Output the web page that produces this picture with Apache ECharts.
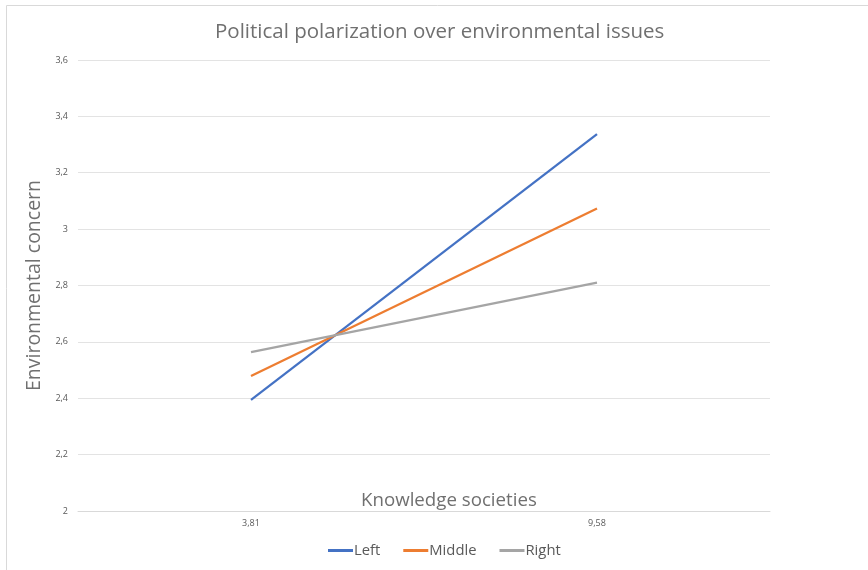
<!DOCTYPE html>
<html><head><meta charset="utf-8">
<script src="https://cdn.jsdelivr.net/npm/echarts@6/dist/echarts.min.js"></script>
<style>html,body{margin:0;padding:0;background:#fff}#c{width:868px;height:570px}</style>
</head><body><div id="c"></div>
<script>
const categories = ['3,81', '9,58'];
const leftValues = [2.394, 3.337];
const middleValues = [2.479, 3.073];
const rightValues = [2.564, 2.810];
const yTicks = [2, 2.2, 2.4, 2.6, 2.8, 3, 3.2, 3.4, 3.6];

const chart = echarts.init(document.getElementById('c'));
const font = 'Open Sans';
chart.setOption({
  animation: false,
  title: {
    text: 'Political polarization over environmental issues',
    left: 210, top: 17,
    textStyle: { fontFamily: font, fontSize: 20.5, fontWeight: 'normal', color: '#707070' }
  },
  graphic: [
    { type: 'rect', shape: { x: 6.5, y: 5.5, width: 900, height: 600 }, style: { fill: 'none', stroke: '#d9d9d9', lineWidth: 1 }, silent: true },
    { type: 'text', left: 361, top: 491, style: { text: 'Knowledge societies', font: '18.7px "Open Sans"', fill: '#707070' } }
  ],
  legend: {
    bottom: 7, left: 323, itemWidth: 25, itemHeight: 3, itemGap: 23,
    icon: 'rect',
    textStyle: { fontFamily: font, fontSize: 14.8, color: '#595959', padding: [0, 0, 0, -4] },
    data: ['Left', 'Middle', 'Right']
  },
  grid: { left: 78, right: 98, top: 60, bottom: 59 },
  xAxis: {
    type: 'category', data: categories, boundaryGap: true,
    axisLine: { lineStyle: { color: '#d9d9d9', width: 1 } },
    axisTick: { show: false },
    axisLabel: { fontFamily: font, fontSize: 9, color: '#595959', margin: 8 }
  },
  yAxis: {
    type: 'value', min: 2, max: 3.6, interval: 0.2,
    name: 'Environmental concern', nameLocation: 'middle', nameGap: 27,
    nameTextStyle: { fontFamily: font, fontSize: 19.5, color: '#707070' },
    axisLine: { show: false }, axisTick: { show: false },
    splitLine: { lineStyle: { color: '#e3e3e3', width: 1 } },
    axisLabel: {
      fontFamily: font, fontSize: 9, color: '#595959', margin: 10,
      formatter: v => {
        const t = yTicks.find(x => Math.abs(x - v) < 1e-6);
        return String(Math.round((t === undefined ? v : t) * 10) / 10).replace('.', ',');
      }
    }
  },
  series: [
    { name: 'Left', type: 'line', data: leftValues, symbol: 'none', lineStyle: { color: '#4472c4', width: 2.25 }, itemStyle: { color: '#4472c4' } },
    { name: 'Middle', type: 'line', data: middleValues, symbol: 'none', lineStyle: { color: '#ed7d31', width: 2.25 }, itemStyle: { color: '#ed7d31' } },
    { name: 'Right', type: 'line', data: rightValues, symbol: 'none', lineStyle: { color: '#a5a5a5', width: 2.25 }, itemStyle: { color: '#a5a5a5' } }
  ]
});
</script></body></html>
